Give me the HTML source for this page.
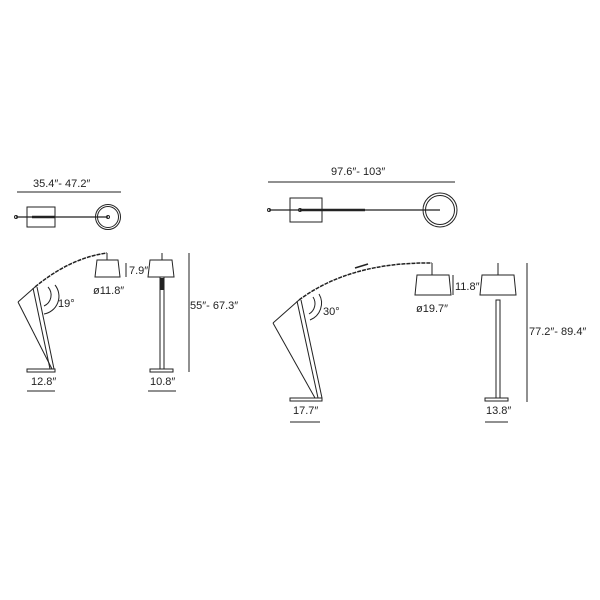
<!DOCTYPE html>
<html><head><style>body{margin:0;background:#fff}svg{display:block}</style></head><body>
<svg width="600" height="600" viewBox="0 0 600 600" xmlns="http://www.w3.org/2000/svg" font-family="Liberation Sans, sans-serif" font-size="11" fill="none" stroke="#222">
<!-- LEFT small lamp -->
<g stroke-width="1">
<text x="33" y="187" fill="#222" stroke="none">35.4″- 47.2″</text>
<line x1="17" y1="192" x2="121" y2="192"/>
<rect x="27" y="207" width="28" height="20"/>
<line x1="16" y1="217" x2="108" y2="217" stroke-width="1.3"/>
<line x1="32" y1="217" x2="55" y2="217" stroke-width="2.5"/>
<circle cx="16" cy="217" r="1.5"/>
<circle cx="108" cy="217" r="12.5"/>
<circle cx="108" cy="217" r="10.5"/>
<circle cx="108" cy="217" r="1.5"/>
<path d="M35 287 Q70 258 107 253" stroke-width="1.5" stroke-dasharray="4 1"/>
<line x1="107" y1="253" x2="107" y2="260"/>
<path d="M97 260 L118 260 L120 277 L95 277 Z"/>
<line x1="126" y1="263" x2="126" y2="277"/>
<text x="129" y="274" fill="#222" stroke="none">7.9″</text>
<text x="93" y="294" fill="#222" stroke="none">ø11.8″</text>
<line x1="35" y1="287" x2="18" y2="302"/>
<line x1="18" y1="302" x2="52" y2="369"/>
<line x1="33" y1="288" x2="50" y2="369"/>
<line x1="37" y1="287" x2="54" y2="369"/>
<rect x="27" y="369" width="28" height="3"/>
<path d="M48 287 A12 12 0 0 1 44 306"/>
<path d="M55 285 A18 18 0 0 1 44 314"/>
<text x="58" y="307" fill="#222" stroke="none">19°</text>
<text x="31" y="385" fill="#222" stroke="none">12.8″</text>
<line x1="27" y1="391" x2="55" y2="391"/>
<line x1="162" y1="253" x2="162" y2="260"/>
<path d="M150 260 L172 260 L174 277 L148 277 Z"/>
<rect x="160" y="277" width="4" height="92"/>
<line x1="162" y1="278" x2="162" y2="290" stroke-width="3"/>
<rect x="150" y="369" width="23" height="3"/>
<text x="150" y="385" fill="#222" stroke="none">10.8″</text>
<line x1="148" y1="391" x2="176" y2="391"/>
<line x1="189" y1="253" x2="189" y2="372"/>
<text x="190" y="309" fill="#222" stroke="none">55″- 67.3″</text>
</g>
<!-- RIGHT big lamp -->
<g stroke-width="1">
<text x="331" y="175" fill="#222" stroke="none">97.6″- 103″</text>
<line x1="268" y1="182" x2="455" y2="182"/>
<rect x="290" y="198" width="32" height="24"/>
<line x1="269" y1="210" x2="440" y2="210" stroke-width="1.2"/>
<line x1="300" y1="210" x2="365" y2="210" stroke-width="2.5"/>
<circle cx="269" cy="210" r="1.5"/>
<circle cx="300" cy="210" r="1.5"/>
<circle cx="440" cy="210" r="17"/>
<circle cx="440" cy="210" r="14.5"/>
<path d="M299 300 Q350 262 432 263" stroke-width="1.5" stroke-dasharray="4 1"/>
<line x1="355" y1="268" x2="368" y2="264" stroke-width="1.5"/>
<line x1="432" y1="263" x2="432" y2="275"/>
<path d="M417 275 L449 275 L451 295 L415 295 Z"/>
<line x1="453" y1="275" x2="453" y2="295"/>
<text x="455" y="290" fill="#222" stroke="none">11.8″</text>
<text x="416" y="312" fill="#222" stroke="none">ø19.7″</text>
<line x1="299" y1="300" x2="273" y2="323"/>
<line x1="273" y1="323" x2="315" y2="398"/>
<line x1="297" y1="301" x2="318" y2="398"/>
<line x1="301" y1="300" x2="322" y2="398"/>
<rect x="290" y="398" width="32" height="3"/>
<path d="M313 297 A12 12 0 0 1 309 314"/>
<path d="M319 294 A18 18 0 0 1 310 320"/>
<text x="323" y="315" fill="#222" stroke="none">30°</text>
<text x="293" y="414" fill="#222" stroke="none">17.7″</text>
<line x1="290" y1="422" x2="320" y2="422"/>
<line x1="498" y1="263" x2="498" y2="275"/>
<path d="M482 275 L514 275 L516 295 L480 295 Z"/>
<rect x="496" y="300" width="4" height="98"/>
<rect x="485" y="398" width="23" height="3"/>
<text x="486" y="414" fill="#222" stroke="none">13.8″</text>
<line x1="485" y1="422" x2="508" y2="422"/>
<line x1="527" y1="263" x2="527" y2="402"/>
<text x="529" y="335" fill="#222" stroke="none">77.2″- 89.4″</text>
</g>
</svg>
</body></html>
